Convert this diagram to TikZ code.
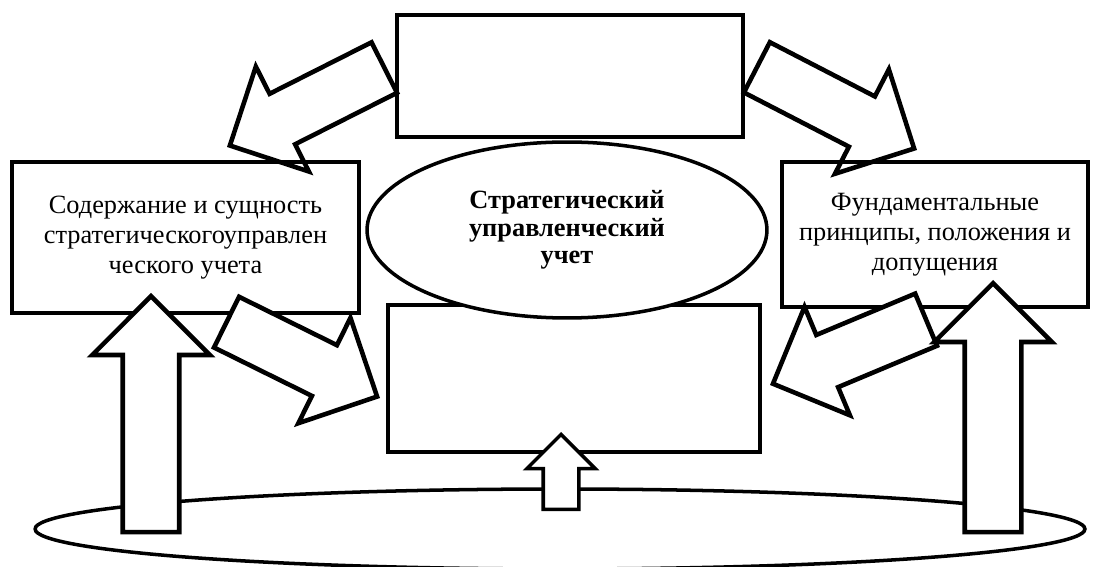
\documentclass[tikz,border=0pt]{standalone}
\usepackage{fontspec}
\setmainfont{Liberation Serif}
\usetikzlibrary{shapes.geometric,shapes.arrows}

\begin{document}
\begin{tikzpicture}[
    x=0.02cm,
    y=-0.02cm,
    font=\fontsize{15}{17.2}\selectfont,
    box/.style={
        rectangle,
        draw,
        line width=2.6pt,
        align=center,
        inner sep=0pt
    },
    oval/.style={
        ellipse,
        draw,
        fill=white,
        line width=2pt,
        align=center,
        inner sep=0pt
    },
    blockarrow/.style={
        single arrow,
        draw,
        fill=white,
        line width=2.6pt,
        inner xsep=0pt,
        inner ysep=0.52cm,
        anchor=tip,
        single arrow head extend=0.61cm
    }
]

\useasboundingbox (0,0) rectangle (1096,567);

\node[box, minimum width=6.92cm, minimum height=2.44cm] (top) at (570,76) {};

\node[blockarrow, rotate=206.8, minimum height=3.46cm] (arrTL) at (227,147) {};
\node[blockarrow, rotate=-27.3, minimum height=3.54cm] (arrTR) at (917,150) {};

\node[box, minimum width=6.94cm, minimum height=3.02cm] (essence) at (185.5,237.5) {
    Содержание и сущность\\
    стратегическогоуправлен\\
    ческого учета
};

\node[box, minimum width=6.12cm, minimum height=2.9cm] (principles) at (935,234.5) {
    Фундаментальные\\
    принципы, положения и\\
    допущения
};

\node[box, minimum width=7.44cm, minimum height=2.94cm] (bottom) at (574,378.5) {};

\node[oval, minimum width=8cm, minimum height=3.52cm,
      font=\fontsize{15}{15.6}\selectfont\bfseries] (sua) at (567,230) {
    Стратегический\\
    управленческий\\
    учет
};

\node[oval, minimum width=21cm, minimum height=1.6cm] (base) at (560,529) {};

\node[blockarrow, rotate=-26.3, minimum height=3.36cm] (arrL) at (380,398) {};
\node[blockarrow, rotate=202.7, minimum height=3.32cm] (arrR) at (770,385) {};

\node[blockarrow, rotate=90, minimum height=4.72cm] (upL) at (151,293) {};
\node[blockarrow, rotate=90, minimum height=4.98cm] (upR) at (993,280) {};
\node[blockarrow, rotate=90, minimum height=1.5cm, inner ysep=0.32cm,
      single arrow head extend=0.33cm, line width=2pt] (upC) at (561,432) {};

\end{tikzpicture}
\end{document}
